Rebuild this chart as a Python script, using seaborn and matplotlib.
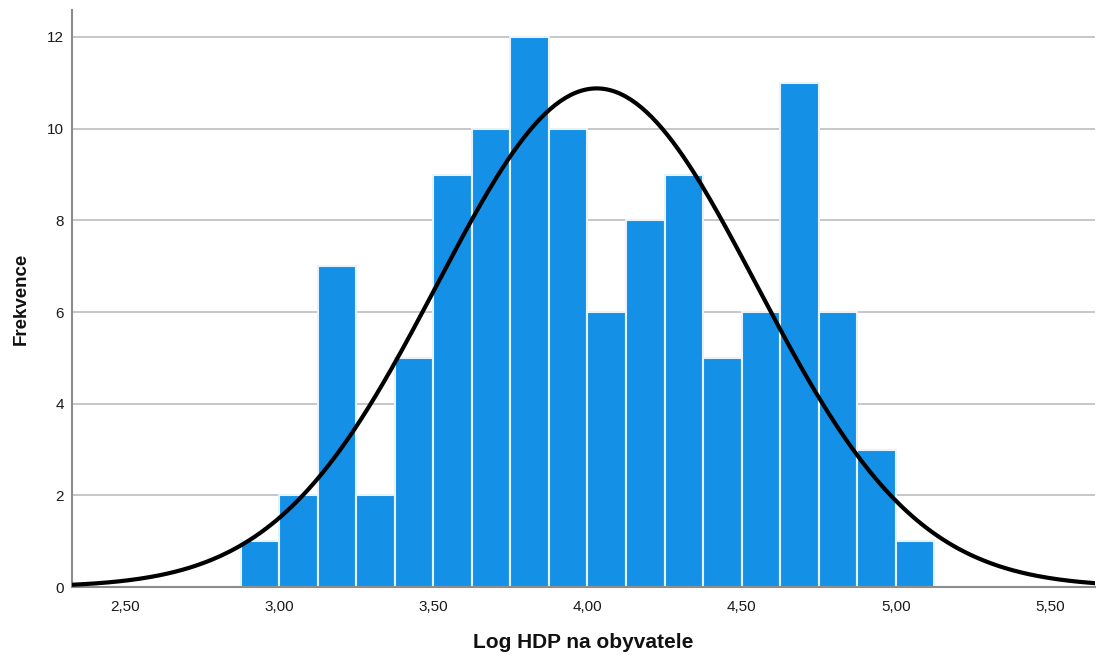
import numpy as np
import pandas as pd
import matplotlib
matplotlib.use("Agg")
import matplotlib.pyplot as plt
import seaborn as sns
from matplotlib.ticker import FuncFormatter

# Histogram bins (lower edges) and frequencies of log GDP per capita
bin_left = [2.875, 3.000, 3.125, 3.250, 3.375, 3.500, 3.625, 3.750, 3.875,
            4.000, 4.125, 4.250, 4.375, 4.500, 4.625, 4.750, 4.875, 5.000]
counts = [1, 2, 7, 2, 5, 9, 10, 12, 10, 6, 8, 9, 5, 6, 11, 6, 3, 1]
bin_width = 0.125

# Fitted normal curve parameters
mean_val = 4.03
std_val = 0.518

x_ticks = [2.5, 3.0, 3.5, 4.0, 4.5, 5.0, 5.5]
y_ticks = [0, 2, 4, 6, 8, 10, 12]

sns.set_theme(style="white")
plt.rcParams["font.family"] = ["Liberation Sans", "DejaVu Sans"]

fig = plt.figure(figsize=(10.96, 6.55), dpi=100)
ax = fig.add_axes([0.0657, 0.1038, 0.9333, 0.881])

df = pd.DataFrame({"center": np.array(bin_left) + bin_width / 2, "freq": counts})
edges = list(bin_left) + [bin_left[-1] + bin_width]
sns.histplot(data=df, x="center", weights="freq", bins=edges, ax=ax,
             color="#1490E6", alpha=1.0, edgecolor="#E8F2FB", linewidth=1.5,
             zorder=2)

n_total = sum(counts)
xs = np.linspace(2.30, 5.70, 400)
ys = n_total * bin_width / (std_val * np.sqrt(2 * np.pi)) * np.exp(-0.5 * ((xs - mean_val) / std_val) ** 2)
sns.lineplot(x=xs, y=ys, ax=ax, color="black", linewidth=3, zorder=3)

ax.set_xlim(2.328, 5.646)
ax.set_ylim(0, 12.59)
ax.set_xticks(x_ticks)
ax.set_yticks(y_ticks)
ax.xaxis.set_major_formatter(FuncFormatter(lambda v, p: f"{v:.2f}".replace(".", ",")))
ax.yaxis.set_major_formatter(FuncFormatter(lambda v, p: f"{int(v)}"))
ax.tick_params(axis="both", length=0, labelsize=11, colors="#1a1a1a", pad=6)
ax.tick_params(axis="x", pad=9)

ax.yaxis.grid(True, color="#BDBDBD", linewidth=1.2, zorder=0)
ax.set_axisbelow(True)

for side in ["top", "right"]:
    ax.spines[side].set_visible(False)
for side in ["left", "bottom"]:
    ax.spines[side].set_color("#8C8C8C")
    ax.spines[side].set_linewidth(1.5)

ax.set_xlabel("Log HDP na obyvatele", fontsize=15, fontweight="bold", labelpad=14, color="#111111")
ax.set_ylabel("Frekvence", fontsize=13.5, fontweight="bold", labelpad=12, color="#111111")

fig.savefig("out.png", dpi=100, facecolor="white")
